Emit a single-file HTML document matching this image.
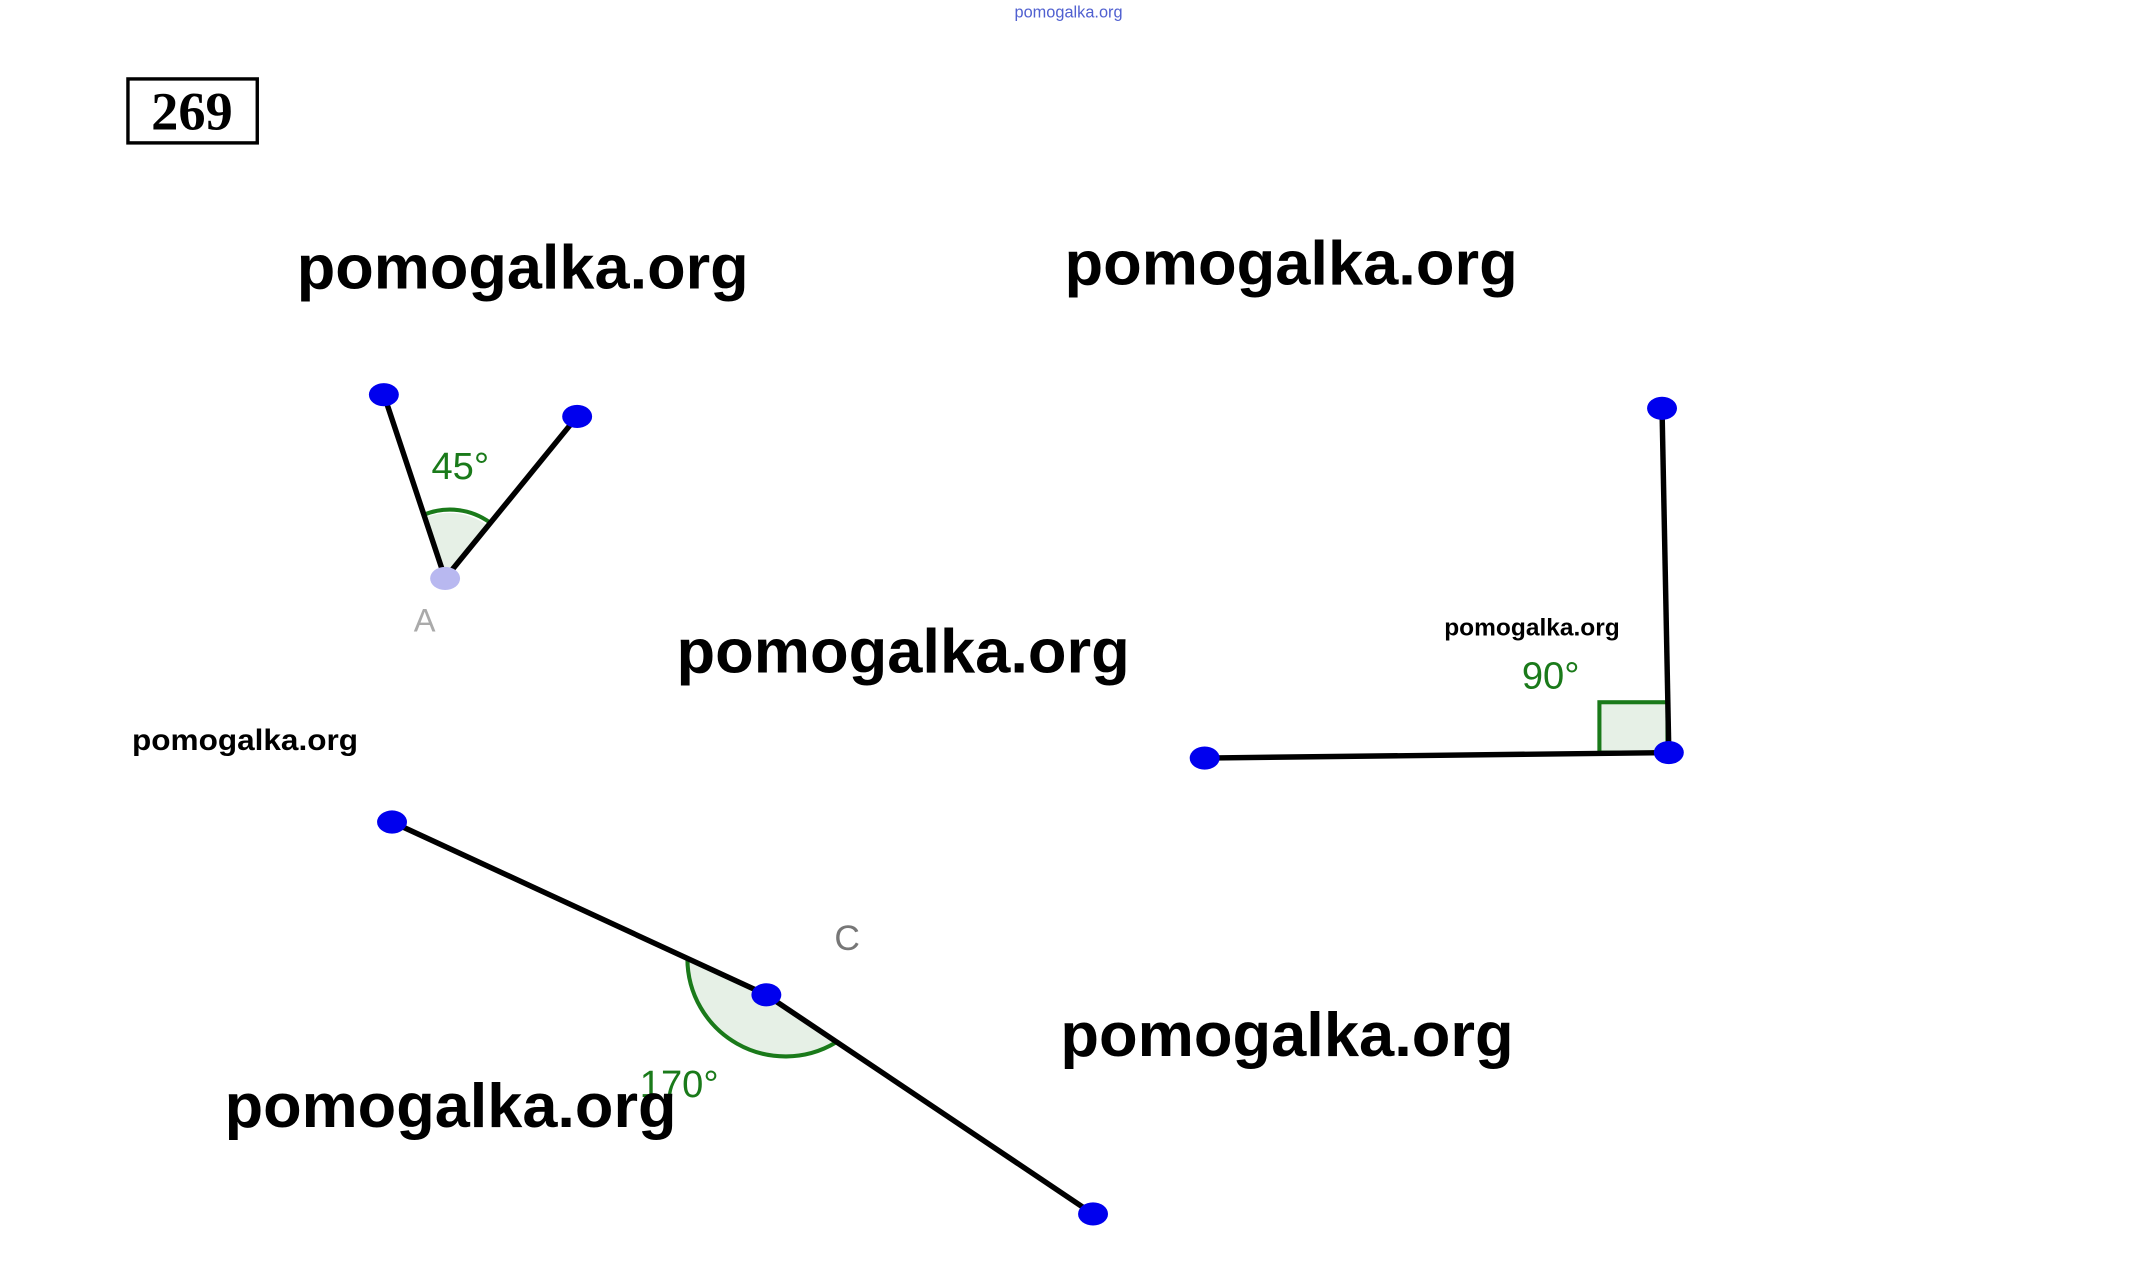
<!DOCTYPE html>
<html><head><style>html,body{margin:0;padding:0;background:#fff}svg{display:block}</style></head>
<body>
<svg width="2133" height="1282" viewBox="0 0 1567 942" preserveAspectRatio="none" xmlns="http://www.w3.org/2000/svg">
<rect width="1567" height="942" fill="#fff"/>
<text x="785" y="13" font-family="Liberation Sans, sans-serif" font-size="12" fill="#5060d0" text-anchor="middle">pomogalka.org</text>
<rect x="94" y="58" width="95" height="47" fill="none" stroke="#000" stroke-width="2.5"/>
<text x="141" y="95" font-family="Liberation Serif, serif" font-weight="bold" font-size="40" text-anchor="middle">269</text>
<g font-family="Liberation Sans, sans-serif" font-weight="bold" font-size="46" fill="#000">
<text x="218" y="212" textLength="332" lengthAdjust="spacingAndGlyphs">pomogalka.org</text>
<text x="782" y="209" textLength="333" lengthAdjust="spacingAndGlyphs">pomogalka.org</text>
<text x="497" y="494" textLength="333" lengthAdjust="spacingAndGlyphs">pomogalka.org</text>
<text x="779" y="776" textLength="333" lengthAdjust="spacingAndGlyphs">pomogalka.org</text>
</g>
<!-- angle 1 -->
<path d="M313,380 A48,48 0 0 1 358,386 L327,425 Z" fill="#e6f0e6"/>
<path d="M312,378 A50,50 0 0 1 360,384" fill="none" stroke="#1a7a1a" stroke-width="3"/>
<line x1="282" y1="290" x2="327" y2="425" stroke="#000" stroke-width="4"/>
<line x1="424" y1="306" x2="327" y2="425" stroke="#000" stroke-width="4"/>
<text x="317" y="352" font-family="Liberation Sans, sans-serif" font-size="28" fill="#1a7a1a">45°</text>
<text x="304" y="464" font-family="Liberation Sans, sans-serif" font-size="24" fill="#aaa">A</text>
<ellipse cx="282" cy="290" rx="11" ry="8.5" fill="#0000ee"/>
<ellipse cx="424" cy="306" rx="11" ry="8.5" fill="#0000ee"/>
<ellipse cx="327" cy="425" rx="11" ry="8.5" fill="#b8b8f0"/>
<!-- angle 2 -->
<rect x="1175" y="516" width="50" height="37" fill="#e6f0e6" stroke="#1a7a1a" stroke-width="3"/>
<line x1="1221" y1="300" x2="1226" y2="553" stroke="#000" stroke-width="4"/>
<line x1="885" y1="557" x2="1226" y2="553" stroke="#000" stroke-width="4"/>
<text x="1118" y="506" font-family="Liberation Sans, sans-serif" font-size="28" fill="#1a7a1a">90°</text>
<ellipse cx="1221" cy="300" rx="11" ry="8.5" fill="#0000ee"/>
<ellipse cx="885" cy="557" rx="11" ry="8.5" fill="#0000ee"/>
<ellipse cx="1226" cy="553" rx="11" ry="8.5" fill="#0000ee"/>
<text x="1061" y="467" font-family="Liberation Sans, sans-serif" font-weight="bold" font-size="18">pomogalka.org</text>
<!-- angle 3 -->
<path d="M563,731 L505,704 A72,72 0 0 0 614,766 Z" fill="#e6f0e6"/>
<path d="M505,704 A72,72 0 0 0 614,766" fill="none" stroke="#1a7a1a" stroke-width="3"/>
<line x1="288" y1="604" x2="563" y2="731" stroke="#000" stroke-width="4"/>
<line x1="563" y1="731" x2="803" y2="892" stroke="#000" stroke-width="4"/>
<text x="470" y="806" font-family="Liberation Sans, sans-serif" font-size="28" fill="#1a7a1a">170°</text>
<text x="613" y="698" font-family="Liberation Sans, sans-serif" font-size="26" fill="#777">C</text>
<ellipse cx="288" cy="604" rx="11" ry="8.5" fill="#0000ee"/>
<ellipse cx="563" cy="731" rx="11" ry="8.5" fill="#0000ee"/>
<ellipse cx="803" cy="892" rx="11" ry="8.5" fill="#0000ee"/>
<text x="97" y="551" font-family="Liberation Sans, sans-serif" font-weight="bold" font-size="22" textLength="166" lengthAdjust="spacingAndGlyphs">pomogalka.org</text>
<text x="165" y="828" font-family="Liberation Sans, sans-serif" font-weight="bold" font-size="46" textLength="332" lengthAdjust="spacingAndGlyphs">pomogalka.org</text>
</svg>
</body></html>
